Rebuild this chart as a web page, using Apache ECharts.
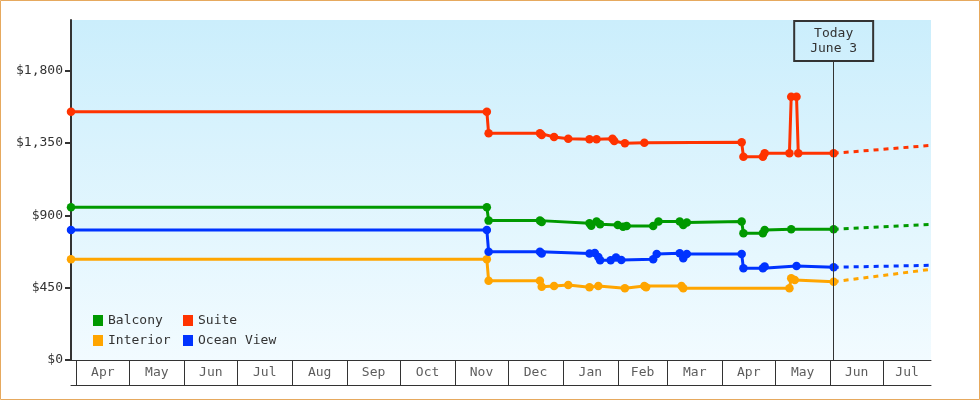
<!DOCTYPE html>
<html><head><meta charset="utf-8">
<script src="https://cdn.jsdelivr.net/npm/echarts@6/dist/echarts.min.js"></script>
<style>html,body{margin:0;padding:0;background:#fff}#c{width:980px;height:400px}</style>
</head><body><div id="c"></div>
<script>
const axisStart = '2022-03-29';
const axisEnd = '2023-07-28';
const todayDate = '2023-06-03';
const todayLabel = 'Today\nJune 3';
const monthStarts = ['2022-04-01','2022-05-01','2022-06-01','2022-07-01','2022-08-01','2022-09-01','2022-10-01','2022-11-01','2022-12-01','2023-01-01','2023-02-01','2023-03-01','2023-04-01','2023-05-01','2023-06-01','2023-07-01'];
const monthLabels = ['Apr','May','Jun','Jul','Aug','Sep','Oct','Nov','Dec','Jan','Feb','Mar','Apr','May','Jun','Jul'];
const yTicks = [0, 450, 900, 1350, 1800];
const yMax = 2115;
const todayLineTop = 1860;

const balcony = [['2022-03-29',950],['2022-11-19',950],['2022-11-20',867],['2022-12-19',867],['2022-12-20',858],['2023-01-16',850],['2023-01-17',835],['2023-01-20',862],['2023-01-22',845],['2023-02-01',840],['2023-02-04',829],['2023-02-06',834],['2023-02-21',834],['2023-02-24',861],['2023-03-08',861],['2023-03-10',840],['2023-03-12',855],['2023-04-12',861],['2023-04-13',788],['2023-04-24',788],['2023-04-25',809],['2023-05-10',813],['2023-06-03',813]];
const suite = [['2022-03-29',1545],['2022-11-19',1545],['2022-11-20',1410],['2022-12-19',1410],['2022-12-20',1400],['2022-12-27',1387],['2023-01-04',1377],['2023-01-16',1373],['2023-01-20',1373],['2023-01-29',1377],['2023-01-30',1362],['2023-02-05',1348],['2023-02-16',1352],['2023-04-12',1354],['2023-04-13',1265],['2023-04-24',1265],['2023-04-25',1286],['2023-05-09',1286],['2023-05-10',1638],['2023-05-13',1638],['2023-05-14',1286],['2023-06-03',1286]];
const interior = [['2022-03-29',626],['2022-11-19',626],['2022-11-20',493],['2022-12-19',493],['2022-12-20',455],['2022-12-27',460],['2023-01-04',467],['2023-01-16',452],['2023-01-21',460],['2023-02-05',446],['2023-02-16',460],['2023-02-17',452],['2023-03-09',460],['2023-03-10',446],['2023-05-09',446],['2023-05-10',508],['2023-05-12',498],['2023-06-03',487]];
const oceanView = [['2022-03-29',808],['2022-11-19',808],['2022-11-20',674],['2022-12-19',674],['2022-12-20',662],['2023-01-16',662],['2023-01-19',666],['2023-01-21',640],['2023-01-22',620],['2023-01-28',620],['2023-01-31',638],['2023-02-03',622],['2023-02-21',626],['2023-02-23',659],['2023-03-08',664],['2023-03-10',633],['2023-03-12',659],['2023-04-12',659],['2023-04-13',570],['2023-04-24',570],['2023-04-25',582],['2023-05-13',585],['2023-06-03',577]];

const balconyForecast = [['2023-06-03',813],['2023-07-28',844]];
const suiteForecast = [['2023-06-03',1286],['2023-07-28',1335]];
const interiorForecast = [['2023-06-03',487],['2023-07-28',564]];
const oceanViewForecast = [['2023-06-03',577],['2023-07-28',589]];

const colors = {Balcony:'#009900', Suite:'#ff3300', Interior:'#ffa500', 'Ocean View':'#0033ff'};
const FONT = 'DejaVu Sans Mono';
const TXT = '#333333';

const chart = echarts.init(document.getElementById('c'), null, {renderer:'canvas'});
const t = s => echarts.time.parse(s).getTime();

const labelPoints = monthStarts.map((s, i) => {
  const a = t(s);
  const b = i + 1 < monthStarts.length ? t(monthStarts[i + 1]) : t(axisEnd);
  return [(a + b) / 2, 0.5, monthLabels[i]];
});

function mainSeries(name, data) {
  const c = colors[name];
  return {type:'line', name, data, xAxisIndex:0, yAxisIndex:0, color:c,
    lineStyle:{width:3, color:c}, itemStyle:{color:c}, symbol:'circle', symbolSize:8.5,
    showSymbol:true, z:3};
}
function forecastSeries(name, data) {
  const c = colors[name];
  return {type:'line', name: name + ' forecast', data, xAxisIndex:0, yAxisIndex:0, color:c,
    lineStyle:{width:3, color:c, type:[5,5], dashOffset:0}, symbol:'none', z:2, silent:true};
}

const legendBase = {orient:'vertical', icon:'rect', itemWidth:10, itemHeight:11, itemGap:7, padding:0,
  selectedMode:false, textStyle:{fontFamily:FONT, fontSize:13, color:TXT, lineHeight:13}};

const suiteS = mainSeries('Suite', suite);
suiteS.markLine = {
  silent:true, symbol:['none','none'], animation:false,
  lineStyle:{color:TXT, width:1, type:'solid'},
  label:{show:true, position:'end', formatter:todayLabel, distance:0,
    fontFamily:FONT, fontSize:13, lineHeight:15, color:TXT,
    backgroundColor:'transparent', borderColor:TXT, borderWidth:1,
    padding:[5,16,5,16], align:'center'},
  emphasis:{disabled:true},
  data:[[{coord:[todayDate, 0]}, {coord:[todayDate, todayLineTop]}]]
};

const option = {
  animation:false,
  grid:[
    {left:71, right:49, top:20, bottom:40, show:true, borderWidth:0,
     backgroundColor:new echarts.graphic.LinearGradient(0,0,0,1,[{offset:0,color:'#cbeefc'},{offset:1,color:'#f2fbff'}])},
    {left:71, right:49, top:361, height:24}
  ],
  xAxis:[
    {type:'time', gridIndex:0, min:axisStart, max:axisEnd,
     axisLine:{show:true, lineStyle:{color:TXT, width:1}}, axisTick:{show:false}, axisLabel:{show:false}, splitLine:{show:false}},
    {type:'time', gridIndex:1, min:axisStart, max:axisEnd,
     axisLine:{show:true, lineStyle:{color:TXT, width:1}}, axisTick:{show:false}, axisLabel:{show:false}, splitLine:{show:false}}
  ],
  yAxis:[
    {type:'value', gridIndex:0, min:0, max:yMax,
     axisLine:{show:true, lineStyle:{color:TXT, width:2}},
     axisTick:{show:true, length:6, lineStyle:{color:TXT, width:2}, customValues:yTicks},
     axisLabel:{show:true, margin:8, fontFamily:FONT, fontSize:13, color:TXT, customValues:yTicks,
       formatter:v => '$' + Number(v).toLocaleString('en-US')},
     splitLine:{show:false}},
    {type:'value', gridIndex:1, min:0, max:1, show:false}
  ],
  legend:[
    Object.assign({}, legendBase, {left:93, top:314, data:['Balcony','Interior']}),
    Object.assign({}, legendBase, {left:183, top:314, data:['Suite','Ocean View']})
  ],
  graphic:[{type:'rect', shape:{x:0.5, y:0.5, width:979, height:399}, style:{fill:'none', stroke:'#e6a95e', lineWidth:1}, silent:true, z:100}],
  series:[
    forecastSeries('Balcony', balconyForecast),
    forecastSeries('Suite', suiteForecast),
    forecastSeries('Interior', interiorForecast),
    forecastSeries('Ocean View', oceanViewForecast),
    mainSeries('Balcony', balcony),
    suiteS,
    mainSeries('Interior', interior),
    mainSeries('Ocean View', oceanView),
    {type:'scatter', name:'months', xAxisIndex:1, yAxisIndex:1, data:labelPoints, symbolSize:0, silent:true,
     label:{show:true, position:'inside', formatter:p => p.value[2], fontFamily:FONT, fontSize:13, color:TXT},
     markLine:{silent:true, symbol:['none','none'], animation:false, label:{show:false},
       lineStyle:{color:TXT, width:1, type:'solid'}, emphasis:{disabled:true},
       data:monthStarts.map(d => ({xAxis:d}))}}
  ]
};
chart.setOption(option);
</script></body></html>
